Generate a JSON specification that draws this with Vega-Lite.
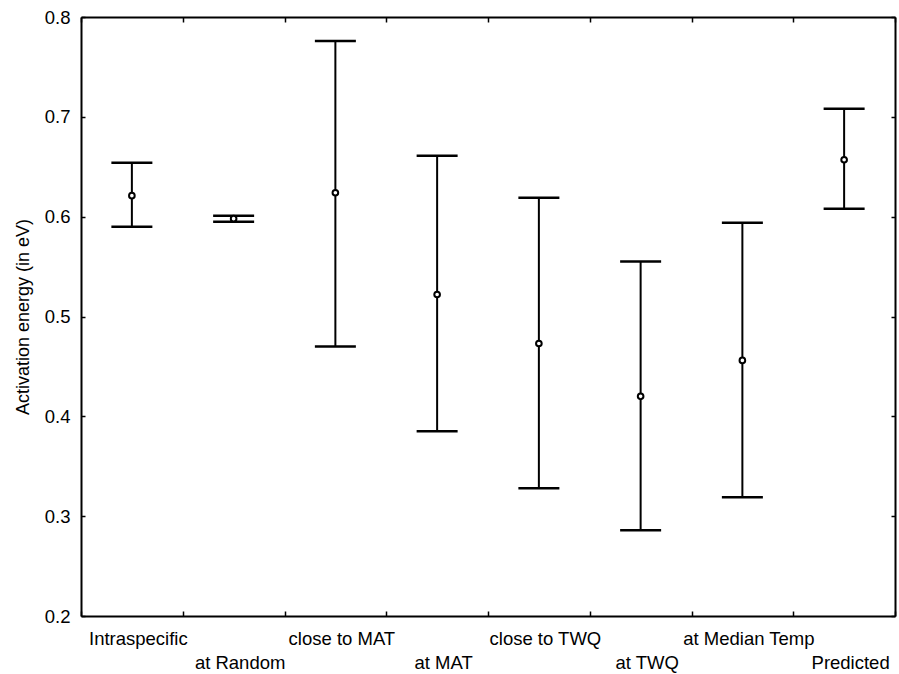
{
  "$schema": "https://vega.github.io/schema/vega-lite/v6.json",
  "width": 814,
  "height": 599,
  "autosize": "none",
  "padding": {"left": 81, "top": 17, "right": 4, "bottom": 58},
  "background": "white",
  "config": {
    "view": {"stroke": null},
    "font": "Liberation Sans",
    "axis": {
      "grid": false,
      "domainColor": "black",
      "domainWidth": 2,
      "tickColor": "black",
      "tickWidth": 1.5,
      "labelColor": "black",
      "labelFont": "Liberation Sans",
      "titleFont": "Liberation Sans",
      "titleColor": "black"
    }
  },
  "data": {
    "values": [
      {"group": "Intraspecific", "mean": 0.621, "lo": 0.590, "hi": 0.654},
      {"group": "at Random", "mean": 0.598, "lo": 0.595, "hi": 0.601},
      {"group": "close to MAT", "mean": 0.624, "lo": 0.470, "hi": 0.776},
      {"group": "at MAT", "mean": 0.522, "lo": 0.385, "hi": 0.661},
      {"group": "close to TWQ", "mean": 0.473, "lo": 0.328, "hi": 0.619},
      {"group": "at TWQ", "mean": 0.420, "lo": 0.286, "hi": 0.555},
      {"group": "at Median Temp", "mean": 0.456, "lo": 0.319, "hi": 0.594},
      {"group": "Predicted", "mean": 0.657, "lo": 0.608, "hi": 0.708}
    ]
  },
  "layer": [
    {
      "mark": {"type": "rule", "color": "black", "strokeWidth": 2},
      "encoding": {
        "x": {
          "field": "group", "type": "nominal", "sort": null,
          "scale": {"type": "band", "paddingInner": 0, "paddingOuter": 0},
          "axis": {
            "orient": "bottom",
            "title": null,
            "labelAngle": 0,
            "labelFontSize": 18.5,
            "labelLineHeight": 24,
            "labelPadding": 18,
            "labelOffset": 6,
            "tickSize": -5,
            "tickBand": "extent",
            "labelExpr": "indexof(['at Random','at MAT','at TWQ','Predicted'], datum.label) >= 0 ? ['', datum.label] : datum.label"
          }
        },
        "y": {
          "field": "lo", "type": "quantitative",
          "scale": {"domain": [0.2, 0.8], "zero": false, "nice": false},
          "axis": {
            "orient": "left",
            "title": "Activation energy (in eV)",
            "titleFontSize": 18,
            "titleFontWeight": "normal",
            "titlePadding": 12,
            "values": [0.2, 0.3, 0.4, 0.5, 0.6, 0.7, 0.8],
            "format": ".1f",
            "labelFontSize": 18.5,
            "labelPadding": 15,
            "tickSize": -4
          }
        },
        "y2": {"field": "hi"}
      }
    },
    {
      "mark": {"type": "tick", "color": "black", "size": 41, "thickness": 2.5, "opacity": 1},
      "encoding": {
        "x": {"field": "group", "type": "nominal", "sort": null, "scale": {"type": "band", "paddingInner": 0, "paddingOuter": 0}, "axis": null},
        "y": {"field": "hi", "type": "quantitative", "axis": null}
      }
    },
    {
      "mark": {"type": "tick", "color": "black", "size": 41, "thickness": 2.5, "opacity": 1},
      "encoding": {
        "x": {"field": "group", "type": "nominal", "sort": null, "scale": {"type": "band", "paddingInner": 0, "paddingOuter": 0}, "axis": null},
        "y": {"field": "lo", "type": "quantitative", "axis": null}
      }
    },
    {
      "mark": {"type": "point", "shape": "circle", "filled": false, "fill": "white", "fillOpacity": 1, "stroke": "black", "strokeWidth": 2, "size": 32, "opacity": 1},
      "encoding": {
        "x": {"field": "group", "type": "nominal", "sort": null, "scale": {"type": "band", "paddingInner": 0, "paddingOuter": 0}, "axis": null},
        "y": {"field": "mean", "type": "quantitative", "axis": null}
      }
    },
    {
      "mark": {"type": "rule", "strokeOpacity": 0},
      "encoding": {
        "x": {
          "field": "group", "type": "nominal", "sort": null,
          "scale": {"type": "band", "paddingInner": 0, "paddingOuter": 0},
          "axis": {"orient": "top", "title": null, "labels": false, "tickSize": -5, "tickBand": "extent"}
        },
        "y": {
          "field": "lo", "type": "quantitative",
          "axis": {"orient": "right", "title": null, "labels": false, "tickSize": -4, "values": [0.2, 0.3, 0.4, 0.5, 0.6, 0.7, 0.8]}
        },
        "y2": {"field": "hi"}
      }
    }
  ],
  "resolve": {"axis": {"x": "independent", "y": "independent"}}
}
